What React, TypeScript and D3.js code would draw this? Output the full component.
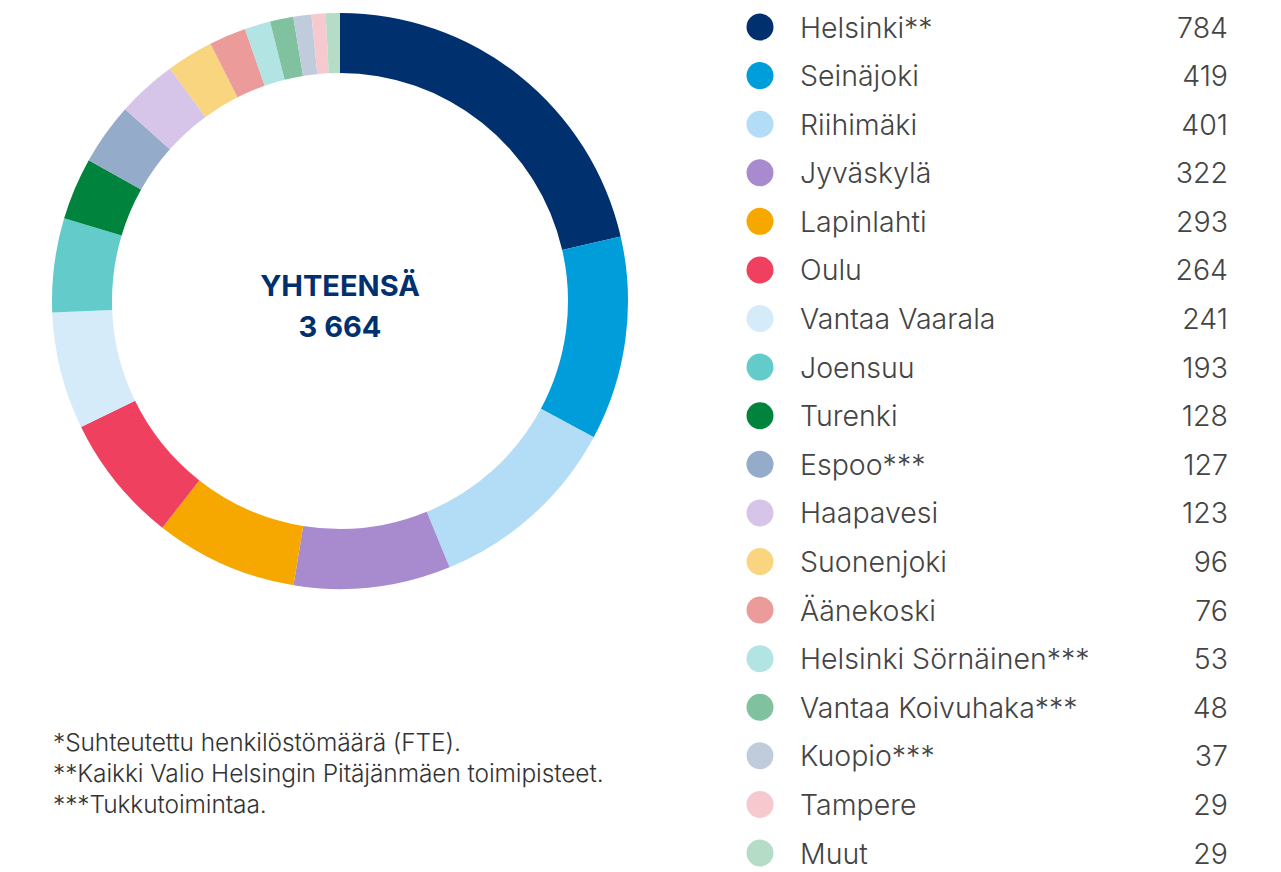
import * as React from "react"
import * as d3 from "d3"

const locations = [
  "Helsinki**", "Seinäjoki", "Riihimäki", "Jyväskylä", "Lapinlahti", "Oulu",
  "Vantaa Vaarala", "Joensuu", "Turenki", "Espoo***", "Haapavesi", "Suonenjoki",
  "Äänekoski", "Helsinki Sörnäinen***", "Vantaa Koivuhaka***", "Kuopio***", "Tampere", "Muut",
]
const staff = [784, 419, 401, 322, 293, 264, 241, 193, 128, 127, 123, 96, 76, 53, 48, 37, 29, 29]
const colors = [
  "#00306e", "#009ddb", "#b3dcf7", "#a88bcf", "#f6a800", "#ef4060",
  "#d6ebfa", "#64cbcb", "#00843d", "#94abc9", "#d6c5e8", "#f8d57e",
  "#ec9b9b", "#b2e4e3", "#80c29f", "#c0ccdc", "#f6c9cf", "#b5dcc6",
]
const totalLabel = ["YHTEENSÄ", "3 664"]
const footnotes = [
  "*Suhteutettu henkilöstömäärä (FTE).",
  "**Kaikki Valio Helsingin Pitäjänmäen toimipisteet.",
  "***Tukkutoimintaa.",
]

const W = 1281
const H = 872
const cx = 340
const cy = 301
const outerR = 288
const innerR = 228

export default function App() {
  const pie = d3.pie<number>().sort(null).value((d) => d)(staff)
  const arc = d3.arc<d3.PieArcDatum<number>>().innerRadius(innerR).outerRadius(outerR)

  const rowY = d3.scalePoint<number>().domain(d3.range(locations.length)).range([27, 853])

  const font = "Inter, 'Open Sans', sans-serif"

  return (
    <svg width={W} height={H} style={{ position: "absolute", left: 0, top: 0 }}>
      <rect width={W} height={H} fill="#fff" />
      <g transform={`translate(${cx},${cy})`}>
        {pie.map((slice, i) => (
          <path key={i} d={arc(slice) || ""} fill={colors[i]} />
        ))}
        {totalLabel.map((t, i) => (
          <text key={t} x={0} y={-16 + i * 41} textAnchor="middle" dominantBaseline="central"
            fontFamily={font} fontWeight={700} fontSize={29} fill="#00306e">{t}</text>
        ))}
      </g>
      <g>
        {locations.map((name, i) => (
          <g key={name} transform={`translate(0,${rowY(i)})`}>
            <circle cx={760} cy={0} r={13.5} fill={colors[i]} />
            <text x={800} y={0} dominantBaseline="central" fontFamily={font} fontWeight={300}
              fontSize={28.5} fill="#444">{name}</text>
            <text x={1228} y={0} dominantBaseline="central" textAnchor="end" fontFamily={font}
              fontWeight={300} fontSize={28.5} fill="#444">{staff[i]}</text>
          </g>
        ))}
      </g>
      <g>
        {footnotes.map((t, i) => (
          <text key={t} x={53} y={742 + i * 31} dominantBaseline="central" fontFamily={font}
            fontWeight={300} fontSize={24.5} fill="#333" letterSpacing={-0.1}>{t}</text>
        ))}
      </g>
    </svg>
  )
}
